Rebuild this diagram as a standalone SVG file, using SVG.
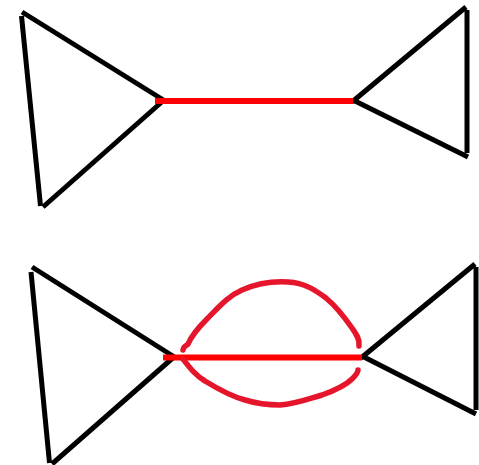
<svg xmlns="http://www.w3.org/2000/svg" width="479" height="465" viewBox="0 0 479 465">
<style>
.e{stroke:#000;stroke-width:5;fill:none;stroke-linecap:butt}
.r{stroke:#ff0000;stroke-width:6;fill:none}
.h{stroke:#e5162b;stroke-width:5.5;fill:none;stroke-linecap:round;stroke-linejoin:round}
</style>
<rect width="479" height="465" fill="#fff"/>
<g id="left-top">
<line class="e" x1="22" y1="12" x2="165" y2="101"/>
<line class="e" x1="164" y1="100" x2="43" y2="207"/>
<line class="e" x1="21.5" y1="16" x2="40.5" y2="206"/>
</g>
<g id="right-top">
<line class="e" x1="466" y1="7" x2="352" y2="102"/>
<line class="e" x1="353" y1="100" x2="468" y2="157"/>
<line class="e" x1="467" y1="10" x2="467" y2="153"/>
</g>
<g id="left-bottom">
<line class="e" x1="32" y1="267" x2="176" y2="358"/>
<line class="e" x1="175" y1="356" x2="52" y2="464"/>
<line class="e" x1="31" y1="272" x2="49.5" y2="463"/>
</g>
<g id="right-bottom">
<line class="e" x1="475" y1="264" x2="361" y2="358"/>
<line class="e" x1="362" y1="356" x2="476" y2="414"/>
<line class="e" x1="476" y1="267" x2="476" y2="410"/>
</g>
<g id="connectors">
<line class="r" x1="155" y1="101" x2="353" y2="101"/>
<line class="r" x1="163" y1="357.5" x2="362" y2="357.5"/>
<path class="h" d="M183,350 C184,345 187,346 188,344 C192,335 198,328 206,320 C218,308 228,296 242,290 C258,283 272,281 288,282 C305,283 315,290 326,298 C338,308 345,318 352,328 C357,335 360,340 359,346"/>
<path class="h" d="M183,359 C190,368 196,376 205,381 C218,389 230,396 245,400 C258,404 268,405 280,405 C296,404 308,399 322,395 C336,390 345,386 352,379 C356,375 358,372 358,370"/>
</g>
</svg>
